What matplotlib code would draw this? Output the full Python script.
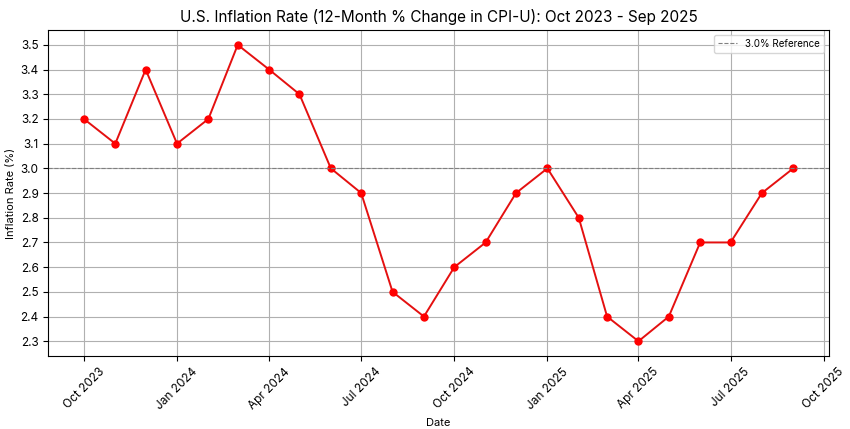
import numpy as np
import pandas as pd
import matplotlib
matplotlib.use("Agg")
import matplotlib.pyplot as plt
import matplotlib.dates as mdates

plt.rcParams["font.family"] = ["Inter", "DejaVu Sans"]

# ---- data: 12-month % change in CPI-U ----
months = pd.date_range("2023-10-01", "2025-09-01", freq="MS")
rates = [3.2, 3.1, 3.4, 3.1, 3.2, 3.5, 3.4, 3.3, 3.0, 2.9, 2.5, 2.4,
         2.6, 2.7, 2.9, 3.0, 2.8, 2.4, 2.3, 2.4, 2.7, 2.7, 2.9, 3.0]
ref_value = 3.0
ref_label = "3.0% Reference"

fig, ax = plt.subplots(figsize=(8.5, 4.29), dpi=100)
ax.plot(months, rates, color="#e41010", marker="o", markersize=5,
        markerfacecolor="red", markeredgecolor="red", linewidth=1.4)
ax.axhline(ref_value, color="gray", linestyle="--", linewidth=0.8, label=ref_label)

ax.set_title("U.S. Inflation Rate (12-Month % Change in CPI-U): Oct 2023 - Sep 2025", fontsize=11)
ax.set_xlabel("Date", fontsize=8)
ax.set_ylabel("Inflation Rate (%)", fontsize=8, labelpad=3)
ax.set_yticks(np.arange(2.3, 3.51, 0.1))
ax.yaxis.set_major_formatter(matplotlib.ticker.FormatStrFormatter("%.1f"))
ax.xaxis.set_major_locator(mdates.MonthLocator(bymonth=[1, 4, 7, 10]))
ax.xaxis.set_major_formatter(mdates.DateFormatter("%b %Y"))
ax.tick_params(labelsize=8.5)
plt.setp(ax.get_xticklabels(), rotation=45)
ax.grid(True, color="#b0b0b0", linewidth=0.8)
ax.legend(loc="upper right", fontsize=7)

plt.subplots_adjust(left=0.057, right=0.975, top=0.93, bottom=0.17)
plt.savefig("out.png", dpi=100)
